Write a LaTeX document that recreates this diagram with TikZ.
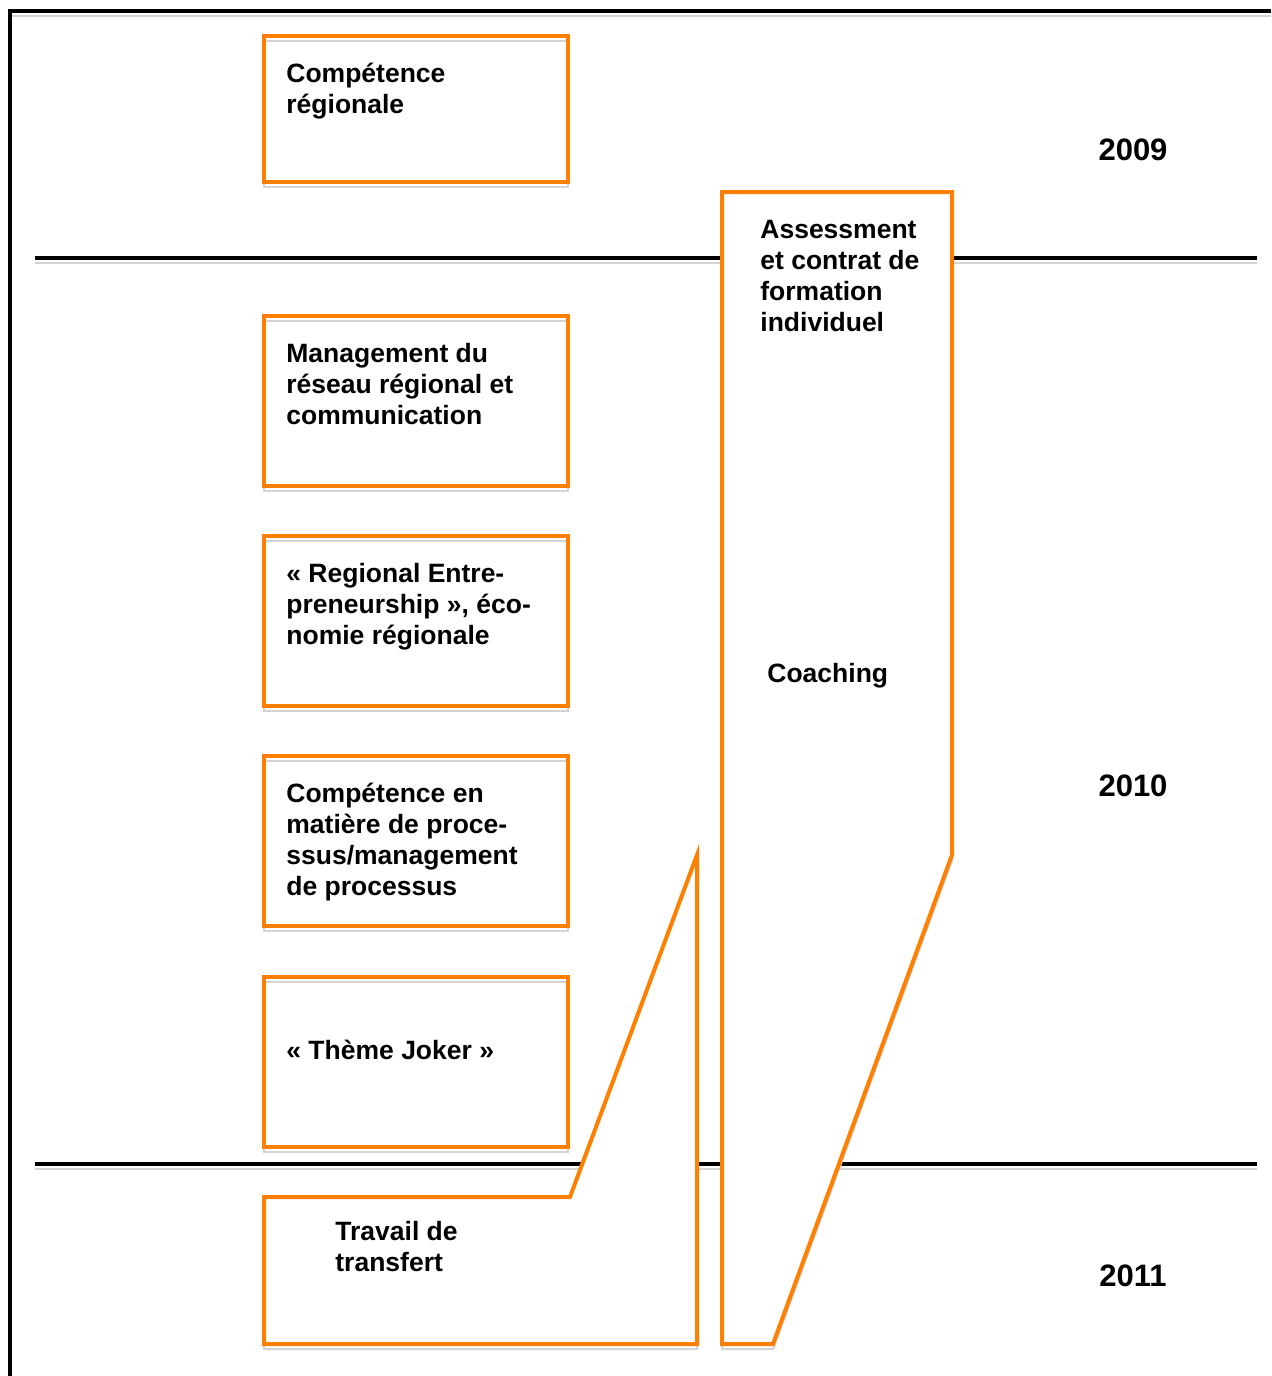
\documentclass[tikz,border=0pt]{standalone}
\usepackage{fontspec}
\setmainfont{Liberation Sans}
\usetikzlibrary{positioning}
\definecolor{boxorange}{RGB}{255,128,0}

\begin{document}
\begin{tikzpicture}[x=0.5pt,y=-0.5pt,
  boxline/.style={draw=boxorange, line width=2pt, line join=miter},
  shadowline/.style={draw=black!17, line width=1.2pt},
  sepline/.style={draw=black, line width=1.8pt},
  boxtext/.style={anchor=base west, inner sep=0pt, align=left,
    font=\fontsize{13.25}{15.5}\selectfont\bfseries},
  yeartext/.style={anchor=base, inner sep=0pt,
    font=\fontsize{15.5}{18}\selectfont\bfseries}]
  \useasboundingbox (0,0) rectangle (1271,1376);

  % Dimensions of the theme column
  \def\bl{264}
  \def\br{568}
  \def\sh{5}

  % Outer frame (only top and left edges are visible)
  \draw[shadowline] (12,11+\sh) -- (1271,11+\sh);
  \draw[sepline, line width=2pt] (10,1376) -- (10,11) -- (1271,11);

  % Year separators
  \foreach \yy in {258,1164} {
    \draw[shadowline] (35,\yy+\sh) -- (1257,\yy+\sh);
    \draw[sepline] (35,\yy) -- (1257,\yy);
  }

  % Theme boxes (text anchored on the baseline of its last line)
  \foreach \yt/\yb in {36/182,316/486,536/706,756/926,977/1147} {
    \draw[shadowline] (\bl,\yt+\sh) rectangle (\br,\yb+\sh);
    \draw[boxline] (\bl,\yt) rectangle (\br,\yb);
  }
  \node[boxtext] (comp) at (286,113) {Compétence\\régionale};
  \node[boxtext] (mgmt) at (286,424) {Management du\\réseau régional et\\communication};
  \node[boxtext] (rent) at (286,644) {«~Regional Entre-\\preneurship~», éco-\\nomie régionale};
  \node[boxtext] (proc) at (286,895) {Compétence en\\matière de proce-\\ssus/management\\de processus};
  \node[boxtext] (joker) at (286,1059) {«~Thème Joker~»};

  % Transfer work
  \draw[shadowline] (264,1197+\sh) -- (570,1197+\sh) -- (697,855+\sh) -- (697,1344+\sh) -- (264,1344+\sh) -- cycle;
  \draw[boxline, fill=white] (264,1197) -- (570,1197) -- (697,855) -- (697,1344) -- (264,1344) -- cycle;
  \node[boxtext] (transfer) at (335,1271) {Travail de\\transfert};

  % Assessment and coaching
  \draw[shadowline] (722,192+\sh) -- (952,192+\sh) -- (952,855+\sh) -- (773,1344+\sh) -- (722,1344+\sh) -- cycle;
  \draw[boxline, fill=white] (722,192) -- (952,192) -- (952,855) -- (773,1344) -- (722,1344) -- cycle;
  \node[boxtext] (assess) at (760,331) {Assessment\\et contrat de\\formation\\individuel};
  \node[boxtext] (coach) at (767,682) {Coaching};

  % Years
  \node[yeartext] (y2009) at (1133,160) {2009};
  \node[yeartext] (y2010) at (1133,796) {2010};
  \node[yeartext] (y2011) at (1133,1286) {2011};
\end{tikzpicture}
\end{document}
